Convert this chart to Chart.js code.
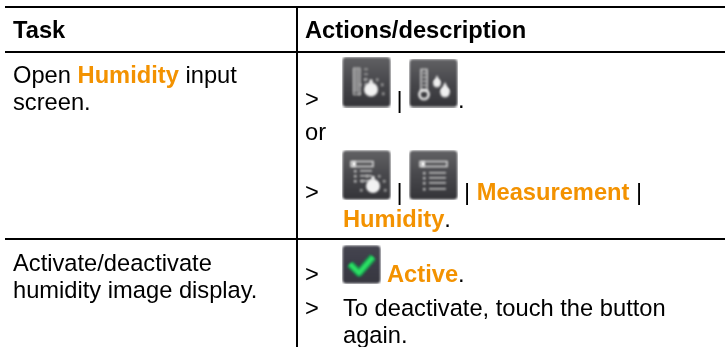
<!DOCTYPE html>
<html>
<head>
<meta charset="utf-8">
<title>Humidity</title>
<script src="https://cdn.jsdelivr.net/npm/chart.js@4"></script>
<style>
	html, body { margin: 0; padding: 0; background: #fff; }
	canvas { display: block; }
</style>
</head>
<body>
<canvas id="tableChart" width="725" height="347"></canvas>
<script>
const headers = ["Task", "Actions/description"];
const task1 = ["Open ", "Humidity", " input", "screen."];
const task2 = ["Activate/deactivate", "humidity image display."];
const step = ">";
const sep = "|";
const orWord = "or";
const menuNames = ["Measurement", "Humidity", "Active"];
const deactivate = ["To deactivate, touch the button", "again."];
const iconNames = ["humiditySetup", "humidity", "menuSetup", "menu", "check"];

const ORANGE = "#F39200";
const FONT = '23.7px "Liberation Sans", Arial, sans-serif';
const BOLD = 'bold 23.7px "Liberation Sans", Arial, sans-serif';

// table rules, in page pixels (the scales are set up 1:1)
const colRules = [297];
const rowRules = [7, 52, 239];

// each line: start x, baseline y, then runs of [text, bold, orange]
const textLines = [
	[13, 38, [[headers[0], true]]],
	[305, 38, [[headers[1], true]]],
	[13, 83, [[task1[0]], [task1[1], true, true], [task1[2]]]],
	[13, 110, [[task1[3]]]],
	[13, 271, [[task2[0]]]],
	[13, 298, [[task2[1]]]],
	[305, 107, [[step]]],
	[396.5, 108, [[sep]]],
	[458, 108, [["."]]],
	[305, 140, [[orWord]]],
	[305, 200, [[step]]],
	[396.5, 200, [[sep]]],
	[464, 200, [[sep + " "], [menuNames[0], true, true], [" " + sep]]],
	[343, 227, [[menuNames[1], true, true], ["."]]],
	[305, 282, [[step]]],
	[387, 282, [[menuNames[2], true, true], ["."]]],
	[305, 316, [[step]]],
	[343, 316, [[deactivate[0]]]],
	[343, 343, [[deactivate[1]]]],
];

function rounded(c, w, h, r) {
	c.beginPath();
	c.roundRect(0.5, 0.5, w - 1, h - 1, r);
}

// dark button with the glyph painted by draw()
function makeIcon(w, h, draw, stops) {
	const cv = document.createElement("canvas");
	cv.width = w;
	cv.height = h;
	const c = cv.getContext("2d");
	c.filter = "blur(0.8px)";
	const g = c.createLinearGradient(0, 0, 0, h);
	g.addColorStop(0, stops[0]);
	g.addColorStop(0.5, stops[1]);
	g.addColorStop(1, stops[2]);
	c.fillStyle = g;
	rounded(c, w, h, 4);
	c.fill();
	draw(c);
	return cv;
}

function knob(c, x, y) {
	c.fillStyle = "#f2f2f2";
	c.beginPath();
	c.arc(x, y, 7, 0, Math.PI * 2);
	c.fill();
	c.fillRect(x - 1.5, y - 10, 3, 5);
	c.fillStyle = "#a8a8a8";
	[[-11, -5], [11, -5], [-12, 4], [12, 4], [-6, -10], [6, -10]].forEach((d) => {
		c.fillRect(x + d[0] - 1, y + d[1] - 1, 2.5, 2.5);
	});
}

function drop(c, x, y, r) {
	c.fillStyle = "#f0f0f0";
	c.beginPath();
	c.arc(x, y, r, 0, Math.PI * 2);
	c.fill();
	c.beginPath();
	c.moveTo(x - r, y - 1);
	c.lineTo(x, y - r * 2.2);
	c.lineTo(x + r, y - 1);
	c.fill();
}

function menuList(c, x, w, rows) {
	c.strokeStyle = "#e0e0e0";
	c.lineWidth = 1.5;
	c.strokeRect(x, 11.5, w, 5);
	c.fillStyle = "#f5f5f5";
	c.fillRect(x + 1, 11.5, 4, 5);
	c.fillStyle = "#c4c4c4";
	rows.forEach((y) => {
		c.fillRect(x + 3, y, 2.5, 2.5);
		c.fillRect(x + 9, y, w - 10, 1.6);
	});
}

const iconPainters = {
	humiditySetup: (c) => {
		c.fillStyle = "#8b8b8d";
		c.fillRect(11, 12, 7, 24);
		c.fillStyle = "#b5b5b5";
		c.fillRect(11, 12, 1.2, 26);
		c.fillRect(17.5, 12, 1.2, 26);
		c.fillRect(11, 11, 7.5, 1.5);
		c.fillRect(11, 37, 7.5, 1.5);
		[12, 17, 22, 27].forEach((y) => c.fillRect(22, y, 4, 1.3));
		knob(c, 29, 33);
	},
	humidity: (c) => {
		c.strokeStyle = "#d8d8d8";
		c.lineWidth = 1.5;
		c.strokeRect(12, 11, 6, 21);
		c.fillStyle = "#c8c8c8";
		[14, 18, 22, 26].forEach((y) => c.fillRect(13, y, 5, 1.4));
		c.lineWidth = 2.5;
		c.strokeStyle = "#f0f0f0";
		c.beginPath();
		c.arc(15, 36, 4.6, 0, Math.PI * 2);
		c.stroke();
		drop(c, 28, 25, 3.8);
		drop(c, 36, 34, 4.8);
	},
	menuSetup: (c) => {
		menuList(c, 9, 22, [20, 25, 30]);
		knob(c, 31, 36);
	},
	menu: (c) => menuList(c, 11, 27, [22, 27, 32, 38]),
	check: (c) => {
		c.strokeStyle = "#1d8a4c";
		c.lineWidth = 8;
		c.lineJoin = "round";
		c.beginPath();
		c.moveTo(8, 19);
		c.lineTo(17, 28);
		c.lineTo(31, 12);
		c.stroke();
		c.strokeStyle = "#2be064";
		c.lineWidth = 4.5;
		c.stroke();
	},
};

const greyStops = ["#626265", "#48484c", "#343438"];
const violetStops = ["#45454f", "#3c3c48", "#37373f"];
const iconStops = { humiditySetup: greyStops, humidity: greyStops, menuSetup: greyStops, menu: greyStops, check: violetStops };
const iconSizes = { humiditySetup: [49, 51], humidity: [49, 49], menuSetup: [49, 50], menu: [49, 50], check: [39, 39] };
// button centres
const iconCentres = { humiditySetup: [366.5, 82], humidity: [433.5, 83], menuSetup: [366.5, 175], menu: [433.5, 175], check: [361.5, 264.5] };

const iconImages = iconNames.map((n) => makeIcon(iconSizes[n][0], iconSizes[n][1], iconPainters[n], iconStops[n]));

const tableText = {
	id: "tableText",
	afterDatasetsDraw(chart) {
		const { ctx, scales } = chart;
		ctx.save();
		ctx.textBaseline = "alphabetic";
		textLines.forEach((line) => {
			let x = scales.x.getPixelForValue(line[0]);
			const y = scales.y.getPixelForValue(line[1]);
			line[2].forEach((run) => {
				ctx.font = run[1] ? BOLD : FONT;
				ctx.fillStyle = run[2] ? ORANGE : "#000";
				ctx.fillText(run[0], x, y);
				x += ctx.measureText(run[0]).width;
			});
		});
		ctx.restore();
	},
};

new Chart(document.getElementById("tableChart"), {
	type: "scatter",
	data: {
		datasets: [
			{
				label: "buttons",
				data: iconNames.map((n) => ({ x: iconCentres[n][0], y: iconCentres[n][1] })),
				pointStyle: (c) => iconImages[c.dataIndex],
				pointRadius: 1, // must be above 0 or the image is skipped
				clip: false,
			},
		],
	},
	options: {
		responsive: false,
		animation: false,
		layout: { autoPadding: false, padding: { left: 5, top: 7 } },
		plugins: {
			legend: { display: false },
			tooltip: { enabled: false },
		},
		scales: {
			x: {
				type: "linear",
				min: 5,
				max: 725,
				afterBuildTicks: (axis) => {
					axis.ticks = colRules.map((v) => ({ value: v }));
				},
				ticks: { display: false },
				border: { display: false },
				grid: { color: "#000", lineWidth: 2, drawTicks: false },
			},
			y: {
				type: "linear",
				reverse: true,
				min: 7,
				max: 347,
				afterBuildTicks: (axis) => {
					axis.ticks = rowRules.map((v) => ({ value: v }));
				},
				ticks: { display: false },
				border: { display: false },
				grid: { color: "#000", lineWidth: 2, drawTicks: false },
			},
		},
	},
	plugins: [tableText],
});
</script>
</body>
</html>
